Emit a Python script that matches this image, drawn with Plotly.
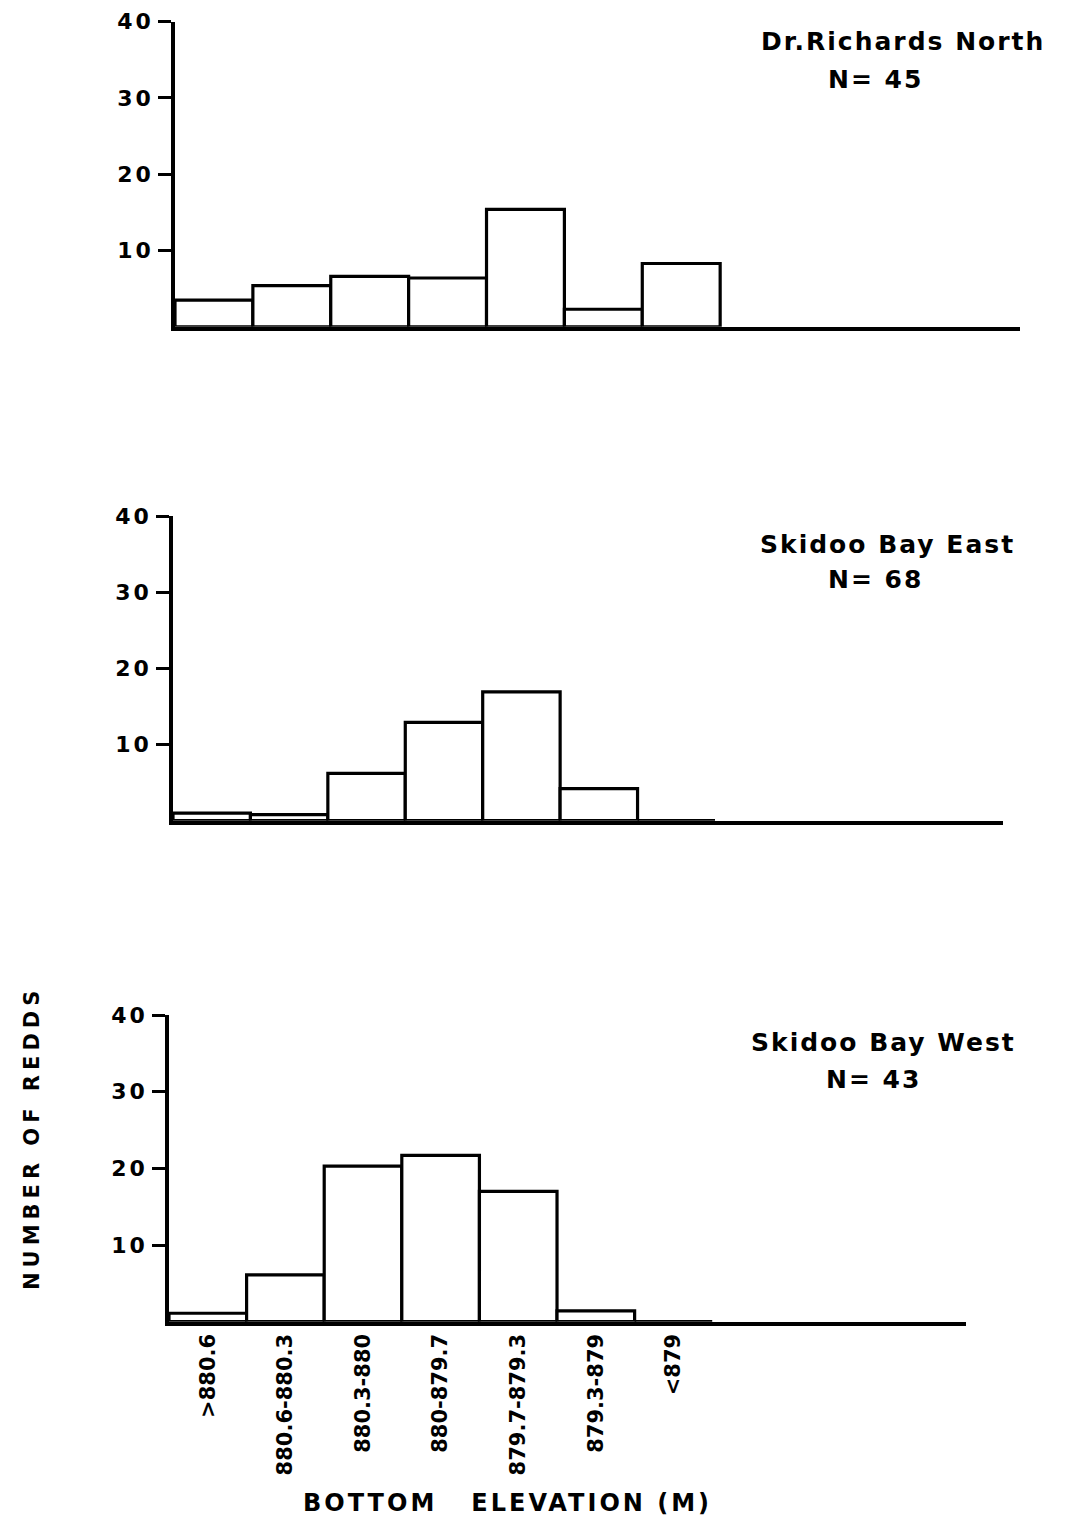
import plotly.graph_objects as go

# Bottom-elevation classes (m) shared by the three sites
categories = [">880.6", "880.6-880.3", "880.3-880", "880-879.7",
              "879.7-879.3", "879.3-879", "<879"]

# Number of redds per elevation class
dr_richards_north = [3.5, 5.4, 6.6, 6.4, 15.4, 2.3, 8.3]
skidoo_bay_east = [1.0, 0.8, 6.2, 12.9, 16.9, 4.2, 0]
skidoo_bay_west = [1.1, 6.1, 20.3, 21.7, 17.0, 1.4, 0]

site_names = ["Dr.Richards North", "Skidoo Bay East", "Skidoo Bay West"]
site_n = ["N= 45", "N= 68", "N= 43"]
y_ticks = [10, 20, 30, 40]

W, H = 1066, 1518
FONT = "DejaVu Sans"
BLACK = "#000000"


def sp(text, px):
    return f'<span style="letter-spacing:{px}px">{text}</span>'


# panel geometry in pixels: (x_left, x_right, y_top(40), y_zero, x_max)
panels = [
    (175, 1020, 21.7, 326.8, 10.35),
    (173, 1003, 516.0, 820.7, 10.22),
    (169, 966, 1015.0, 1321.7, 9.77),
]
series = [dr_richards_north, skidoo_bay_east, skidoo_bay_west]

fig = go.Figure()
layout = dict(
    template="none",
    width=W, height=H,
    margin=dict(l=0, r=0, t=0, b=0, pad=0, autoexpand=False),
    paper_bgcolor="white", plot_bgcolor="white",
    showlegend=False,
    font=dict(family=FONT, color=BLACK),
)

for i, ((xl, xr, yt, y0, xmax), vals) in enumerate(zip(panels, series)):
    n = "" if i == 0 else str(i + 1)
    fig.add_trace(go.Bar(
        x=categories, y=vals, width=1,
        marker=dict(color="white", line=dict(color=BLACK, width=3.2)),
        xaxis="x" + n, yaxis="y" + n,
        hoverinfo="skip",
    ))
    bottom = i == 2
    layout["xaxis" + n] = dict(
        domain=[xl / W, xr / W],
        anchor="y" + n,
        type="category",
        range=[-0.5, xmax],
        automargin=False,
        showline=True, linewidth=3.5, linecolor=BLACK,
        showgrid=False, zeroline=False,
        ticks="",
        showticklabels=bottom,
        tickangle=-90,
        tickfont=dict(family=FONT, size=21, color=BLACK, weight="bold"),
        tickvals=categories,
        ticktext=categories,
    )
    layout["yaxis" + n] = dict(
        domain=[1 - y0 / H, 1 - yt / H],
        anchor="x" + n,
        range=[0, 40],
        automargin=False,
        showline=True, linewidth=3.5, linecolor=BLACK,
        showgrid=False, zeroline=False,
        ticks="outside", ticklen=13, tickwidth=3, tickcolor=BLACK,
        tickvals=y_ticks,
        ticktext=[sp(str(v), 3) for v in y_ticks],
        tickfont=dict(family=FONT, size=22, color=BLACK, weight="bold"),
    )

annotations = []
title_pos = [
    ((903, 42), (875, 80)),
    ((887, 544), (875, 580)),
    ((883, 1042), (873, 1079)),
]
for name, nn, ((tx, ty), (nx, ny)) in zip(site_names, site_n, title_pos):
    annotations.append(dict(
        x=tx / W, y=1 - ty / H, xref="paper", yref="paper",
        text=sp(name, 2), showarrow=False, xanchor="center", yanchor="middle",
        font=dict(family=FONT, size=25, color=BLACK, weight="bold"),
    ))
    annotations.append(dict(
        x=nx / W, y=1 - ny / H, xref="paper", yref="paper",
        text=sp(nn, 2), showarrow=False, xanchor="center", yanchor="middle",
        font=dict(family=FONT, size=25, color=BLACK, weight="bold"),
    ))

annotations.append(dict(
    x=507 / W, y=1 - 1503 / H, xref="paper", yref="paper",
    text=sp("BOTTOM\u00a0\u00a0\u00a0ELEVATION (M)", 3),
    showarrow=False, xanchor="center", yanchor="middle",
    font=dict(family=FONT, size=24, color=BLACK, weight="bold"),
))
annotations.append(dict(
    x=32 / W, y=1 - 1138 / H, xref="paper", yref="paper",
    text=sp("NUMBER\u00a0OF\u00a0REDDS", 5),
    showarrow=False, xanchor="center", yanchor="middle", textangle=-90,
    font=dict(family=FONT, size=21, color=BLACK, weight="bold"),
))
layout["annotations"] = annotations

fig.update_layout(**layout)
fig.write_html("out.html")
